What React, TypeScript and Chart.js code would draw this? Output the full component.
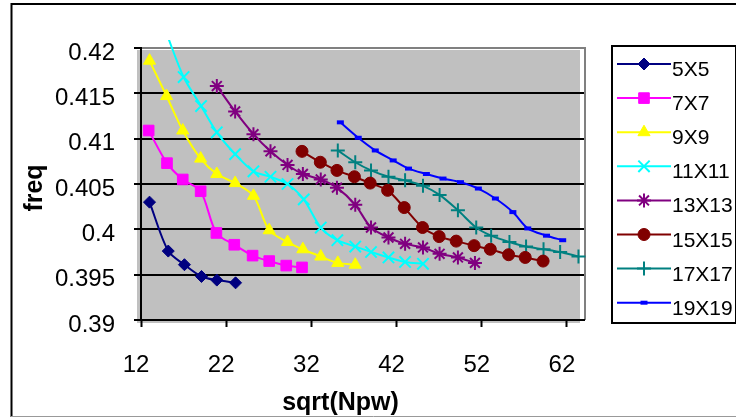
import React, { useEffect, useRef } from 'react';
import { Chart, registerables } from 'chart.js';
import { drawPoint } from 'chart.js/helpers';

Chart.register(...registerables);

const SERIES_NAMES = ['5X5', '7X7', '9X9', '11X11', '13X13', '15X15', '17X17', '19X19'];

const X_5X5 = [13.0, 15.2, 17.1, 19.1, 20.9, 23.1];
const Y_5X5 = [0.403, 0.3976, 0.3961, 0.3948, 0.3944, 0.3941];

const X_7X7 = [12.9, 15.05, 16.9, 19.0, 20.85, 22.95, 25.1, 27.05, 29.05, 30.9];
const Y_7X7 = [0.4109, 0.4073, 0.4055, 0.4042, 0.3996, 0.3983, 0.3971, 0.3965, 0.396, 0.3958];

const X_9X9 = [13.0, 15.0, 16.9, 19.0, 20.9, 23.05, 25.2, 27.05, 29.2, 31.0, 33.1, 35.1, 37.15];
const Y_9X9 = [0.4186, 0.4147, 0.4109, 0.4078, 0.4061, 0.4051, 0.4037, 0.3999, 0.3986, 0.3978, 0.397, 0.3963, 0.3961];

const X_11X11 = [15.0, 17.0, 19.05, 20.9, 23.05, 25.2, 27.2, 29.2, 31.1, 33.1, 35.05, 37.15, 39.0, 41.05, 43.0, 45.1];
const Y_11X11 = [0.4216, 0.4168, 0.4136, 0.4107, 0.4083, 0.4064, 0.4058, 0.405, 0.4033, 0.4002, 0.3988, 0.3981, 0.3975, 0.3969, 0.3964, 0.3962];

const X_13X13 = [20.9, 23.05, 25.2, 27.2, 29.2, 31.0, 33.1, 35.0, 37.15, 39.0, 41.05, 43.0, 45.1, 47.05, 49.2, 51.2];
const Y_13X13 = [0.4158, 0.413, 0.4105, 0.4086, 0.4071, 0.4061, 0.4055, 0.4046, 0.4027, 0.4002, 0.3991, 0.3984, 0.398, 0.3973, 0.3969, 0.3963];

const X_15X15 = [30.9, 33.05, 35.0, 37.05, 38.9, 40.95, 42.9, 45.05, 47.0, 49.0, 51.1, 53.0, 55.15, 57.1, 59.2];
const Y_15X15 = [0.4086, 0.4074, 0.4065, 0.4058, 0.4051, 0.4043, 0.4024, 0.4002, 0.3992, 0.3987, 0.3982, 0.3978, 0.3972, 0.3969, 0.3965];

const X_17X17 = [35.1, 37.15, 39.0, 41.05, 43.0, 45.1, 47.05, 49.2, 51.35, 53.1, 55.25, 57.2, 59.25, 61.2, 63.35];
const Y_17X17 = [0.4087, 0.4074, 0.4065, 0.4058, 0.4054, 0.4048, 0.4038, 0.4021, 0.4002, 0.3993, 0.3986, 0.3981, 0.3978, 0.3975, 0.397];

const X_19X19 = [35.4, 37.5, 39.5, 41.6, 43.4, 45.5, 47.45, 49.5, 51.6, 53.6, 55.65, 57.4, 59.6, 61.5];
const Y_19X19 = [0.4118, 0.4101, 0.4087, 0.4076, 0.4067, 0.4061, 0.4056, 0.4052, 0.4045, 0.4034, 0.4019, 0.4001, 0.3993, 0.3988];

const SERIES_X = [X_5X5, X_7X7, X_9X9, X_11X11, X_13X13, X_15X15, X_17X17, X_19X19];
const SERIES_Y = [Y_5X5, Y_7X7, Y_9X9, Y_11X11, Y_13X13, Y_15X15, Y_17X17, Y_19X19];

const X_TICKS = [12, 22, 32, 42, 52, 62];
const Y_TICKS = [0.39, 0.395, 0.4, 0.405, 0.41, 0.415, 0.42];
const X_TITLE = 'sqrt(Npw)';
const Y_TITLE = 'freq';

const COLORS = ['#000080', '#FF00FF', '#FFFF00', '#00FFFF', '#800080', '#800000', '#008080', '#0000FF'];
const POINT_STYLES = ['rectRot', 'rect', 'triangle', 'crossRot', 'star', 'circle', 'cross', 'line'];
const POINT_RADII = [6, 7.5, 7, 8, 7, 6, 7, 3.5];
const POINT_BORDER = [1, 1, 1, 2, 2, 1, 2, 4];

const FONT = '"Liberation Sans", Arial, sans-serif';

const decorPlugin = {
  id: 'decor',
  beforeDraw(chart: any) {
    const { ctx, chartArea } = chart;
    const { left, top, right, bottom } = chartArea;
    ctx.save();
    ctx.fillStyle = '#fff';
    ctx.fillRect(0, 0, chart.width, chart.height);
    // outer border
    ctx.strokeStyle = '#000';
    ctx.lineWidth = 2;
    ctx.beginPath();
    ctx.moveTo(11.5, 417);
    ctx.lineTo(11.5, 4);
    ctx.lineTo(736, 4);
    ctx.stroke();
    ctx.strokeStyle = '#999';
    ctx.lineWidth = 1;
    ctx.beginPath();
    ctx.moveTo(11, 416.5);
    ctx.lineTo(736, 416.5);
    ctx.stroke();
    // plot area fill (slightly offset, like the original)
    ctx.fillStyle = '#C0C0C0';
    ctx.fillRect(left - 4, top + 2, right - left, bottom - top + 1);
    // plot area border
    ctx.strokeStyle = '#808080';
    ctx.lineWidth = 2;
    ctx.beginPath();
    ctx.moveTo(left, top);
    ctx.lineTo(right + 1, top);
    ctx.lineTo(right + 1, bottom);
    ctx.stroke();
    ctx.restore();
  },
  afterDraw(chart: any) {
    const { ctx, chartArea } = chart;
    ctx.save();
    // axis titles
    ctx.fillStyle = '#000';
    ctx.font = 'bold 25px ' + FONT;
    ctx.textAlign = 'center';
    ctx.textBaseline = 'alphabetic';
    ctx.fillText(X_TITLE, (chartArea.left + chartArea.right) / 2 - 22, 410);
    ctx.save();
    ctx.translate(42, 188);
    ctx.rotate(-Math.PI / 2);
    ctx.fillText(Y_TITLE, 0, 0);
    ctx.restore();
    // legend
    ctx.strokeStyle = '#000';
    ctx.lineWidth = 2;
    ctx.strokeRect(612, 46, 124, 277);
    chart.data.datasets.forEach((ds: any, i: number) => {
      const y = 64 + i * 34.1;
      ctx.strokeStyle = ds.borderColor;
      ctx.lineWidth = 2;
      ctx.beginPath();
      ctx.moveTo(617, y);
      ctx.lineTo(671, y);
      ctx.stroke();
      ctx.fillStyle = ds.pointBackgroundColor;
      ctx.strokeStyle = ds.pointBorderColor;
      ctx.lineWidth = ds.pointBorderWidth;
      drawPoint(ctx, { pointStyle: ds.pointStyle, radius: ds.pointRadius, rotation: 0, borderWidth: ds.pointBorderWidth }, 644, y);
      ctx.fillStyle = '#000';
      ctx.font = '21px ' + FONT;
      ctx.textAlign = 'left';
      ctx.textBaseline = 'alphabetic';
      ctx.fillText(ds.label, 672, y + 12);
    });
    ctx.restore();
  },
};

export default function App() {
  const ref = useRef<HTMLCanvasElement>(null);
  useEffect(() => {
    const datasets = SERIES_NAMES.map((name, i) => ({
      label: name,
      data: SERIES_X[i].map((x, j) => ({ x, y: SERIES_Y[i][j] })),
      borderColor: COLORS[i],
      backgroundColor: COLORS[i],
      borderWidth: 2,
      pointStyle: POINT_STYLES[i],
      pointRadius: POINT_RADII[i],
      pointBackgroundColor: COLORS[i],
      pointBorderColor: COLORS[i],
      pointBorderWidth: POINT_BORDER[i],
      tension: 0.3,
      fill: false,
      clip: { left: 10, top: 8, right: 10, bottom: 10 },
    }));
    const chart = new Chart(ref.current as HTMLCanvasElement, {
      type: 'line',
      data: { datasets },
      plugins: [decorPlugin],
      options: {
        animation: false,
        responsive: false,
        devicePixelRatio: 1,
        layout: { padding: { left: 0, top: 48, right: 152, bottom: 0 } },
        font: { family: FONT },
        plugins: { legend: { display: false }, tooltip: { enabled: false } },
        scales: {
          x: {
            type: 'linear',
            min: 12,
            max: 64,
            afterBuildTicks: (s: any) => { s.ticks = X_TICKS.map((v) => ({ value: v })); },
            afterFit: (s: any) => { s.height = 97; },
            border: { color: '#000', width: 2 },
            grid: { drawOnChartArea: false, drawTicks: true, tickLength: 7, tickColor: '#000', tickWidth: 2 },
            ticks: { color: '#000', font: { size: 24, family: FONT }, padding: 24, labelOffset: -5, maxRotation: 0, autoSkip: false },
          },
          y: {
            type: 'linear',
            min: 0.39,
            max: 0.42,
            afterBuildTicks: (s: any) => { s.ticks = Y_TICKS.map((v) => ({ value: v })); },
            afterFit: (s: any) => { s.width = 141; },
            border: { color: '#000', width: 2 },
            grid: {
              color: (c: any) => (c.tick && c.tick.value > 0.4199 ? 'rgba(0,0,0,0)' : '#000'),
              lineWidth: 2,
              tickLength: 7,
              tickColor: '#000',
              tickWidth: 2,
            },
            ticks: {
              color: '#000',
              font: { size: 24, family: FONT },
              padding: 19,
              labelOffset: 5,
              autoSkip: false,
              callback: (v: any) => String(+Number(v).toFixed(3)),
            },
          },
        },
      } as any,
    });
    return () => chart.destroy();
  }, []);
  return (
    <canvas
      ref={ref}
      width={736}
      height={417}
      style={{ position: 'fixed', left: 0, top: 0, width: 736, height: 417 }}
    />
  );
}
